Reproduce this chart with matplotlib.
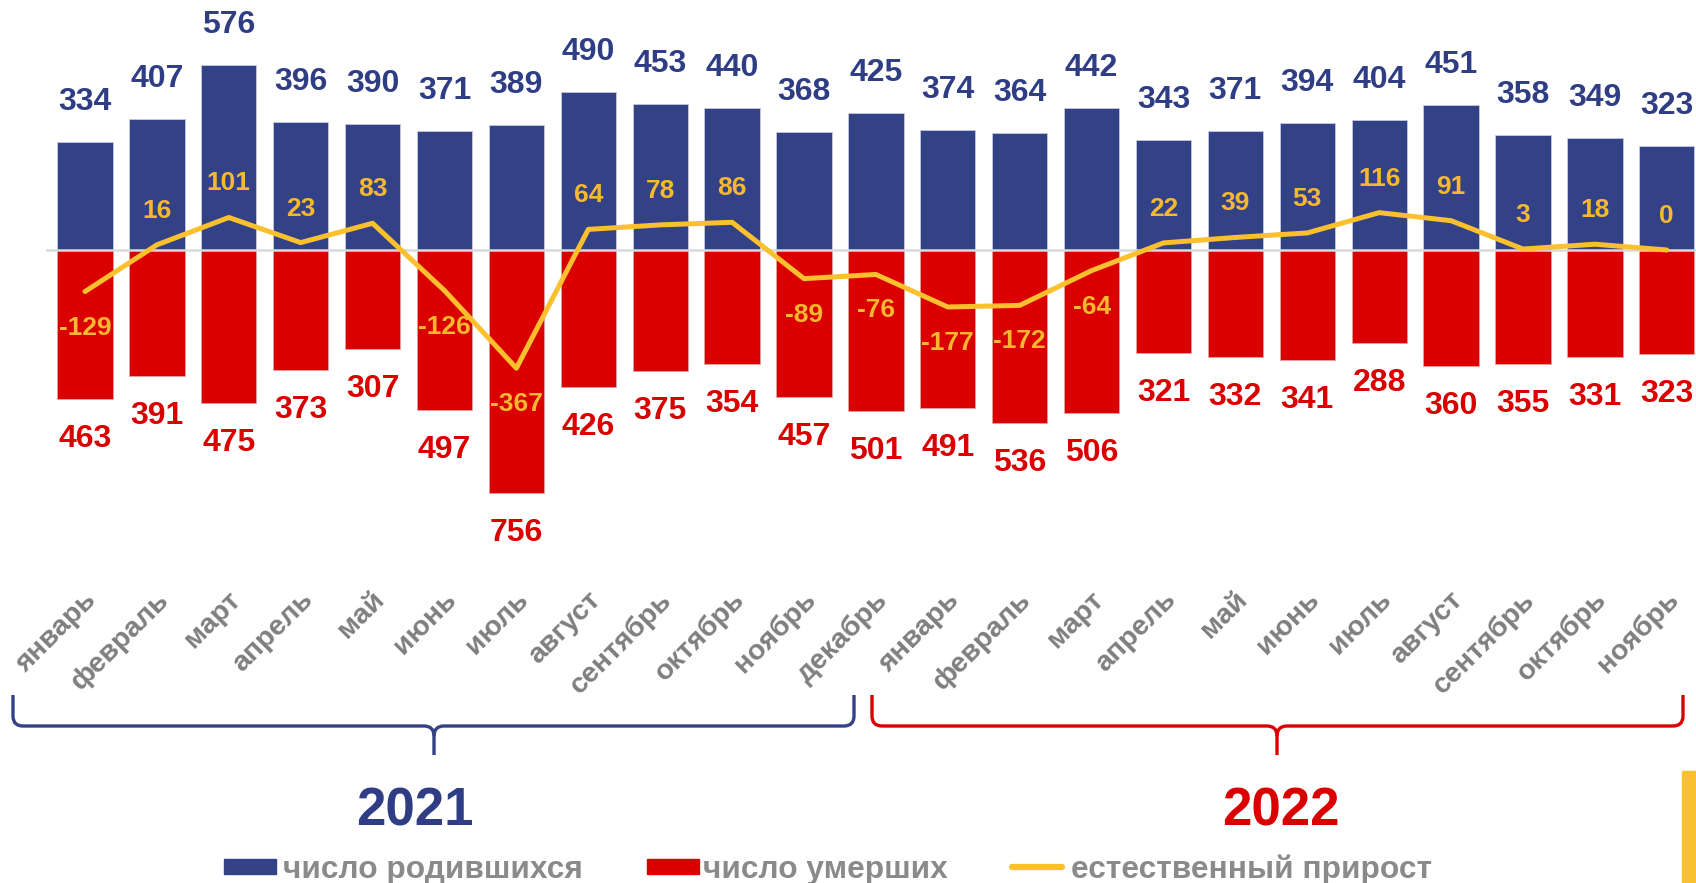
import matplotlib
matplotlib.use("Agg")
import matplotlib.pyplot as plt
from matplotlib.path import Path
from matplotlib.patches import PathPatch, Rectangle
import numpy as np

# Данные
months = ["январь", "февраль", "март", "апрель", "май", "июнь", "июль", "август",
          "сентябрь", "октябрь", "ноябрь", "декабрь",
          "январь", "февраль", "март", "апрель", "май", "июнь", "июль", "август",
          "сентябрь", "октябрь", "ноябрь"]
births = [334, 407, 576, 396, 390, 371, 389, 490, 453, 440, 368, 425,
          374, 364, 442, 343, 371, 394, 404, 451, 358, 349, 323]
deaths = [463, 391, 475, 373, 307, 497, 756, 426, 375, 354, 457, 501,
          491, 536, 506, 321, 332, 341, 288, 360, 355, 331, 323]
growth = [-129, 16, 101, 23, 83, -126, -367, 64, 78, 86, -89, -76,
          -177, -172, -64, 22, 39, 53, 116, 91, 3, 18, 0]
years = ["2021", "2022"]

BLUE = "#334187"
RED = "#DA0000"
YELLOW = "#FBC02D"
GRAY = "#7f7f7f"

W, H = 1696, 883
plt.rcParams['font.family'] = ['Liberation Sans', 'DejaVu Sans']

fig = plt.figure(figsize=(W / 100, H / 100), dpi=100)

def fx(px):
    return px / W

def fy(py):
    return 1 - py / H

# оси: ноль на 250 px, 0.322 px на единицу
ax_top, ax_bot = 0, 530
ax = fig.add_axes([fx(46), fy(ax_bot), 1 - fx(46), (ax_bot - ax_top) / H])
scale = 0.322
ax.set_ylim(-(ax_bot - 250) / scale, 250 / scale)
step = 71.9
ax.set_xlim((46 - 85) / step, (W - 85) / step)
ax.axis("off")

x = np.arange(len(months))
ax.bar(x, births, width=0.77, color=BLUE, edgecolor="#c5c9dd", linewidth=0.6, zorder=2)
ax.bar(x, [-d for d in deaths], width=0.77, color=RED, edgecolor="#e8a0a0", linewidth=0.6, zorder=2)
ax.axhline(0, color="#d9d9d9", lw=1.8, zorder=3)
ax.plot(x, growth, color=YELLOW, lw=3.6, solid_capstyle="round", solid_joinstyle="round", zorder=4)

for i in range(len(months)):
    ax.annotate(str(births[i]), (x[i], births[i]), xytext=(0, 40), textcoords="offset pixels",
                ha="center", va="center", fontsize=23, fontweight="bold", color="#2f3d85",
                annotation_clip=False, zorder=5)
    ax.annotate(str(deaths[i]), (x[i], -deaths[i]), xytext=(0, -40), textcoords="offset pixels",
                ha="center", va="center", fontsize=23, fontweight="bold", color=RED,
                annotation_clip=False, zorder=5)
    off = 34 if growth[i] >= 0 else -36
    ax.annotate(str(growth[i]), (x[i], growth[i]), xytext=(0, off), textcoords="offset pixels",
                ha="center", va="center", fontsize=19, fontweight="bold", color="#f5b82e",
                annotation_clip=False, zorder=6)

# подписи месяцев
for i, m in enumerate(months):
    xp = 46 + (x[i] - ax.get_xlim()[0]) * step
    fig.text(fx(xp + 8), fy(596), m, rotation=45, rotation_mode="anchor", ha="right", va="center",
             fontsize=20.5, fontweight="bold", color=GRAY)

# фигурные скобки
def brace(x0, x1, xt, color):
    top, line, tip, r = 695, 726, 755, 10
    verts = [(x0, top), (x0, line - r), (x0, line), (x0 + r, line),
             (xt - r, line), (xt, line), (xt, line + r), (xt, tip)]
    codes = [Path.MOVETO, Path.LINETO, Path.CURVE3, Path.CURVE3,
             Path.LINETO, Path.CURVE3, Path.CURVE3, Path.LINETO]
    verts2 = [(x1, top), (x1, line - r), (x1, line), (x1 - r, line),
              (xt + r, line), (xt, line), (xt, line + r)]
    codes2 = [Path.MOVETO, Path.LINETO, Path.CURVE3, Path.CURVE3,
              Path.LINETO, Path.CURVE3, Path.CURVE3]
    for v, c in [(verts, codes), (verts2, codes2)]:
        p = Path([(fx(a), fy(b)) for a, b in v], c)
        fig.add_artist(PathPatch(p, fill=False, edgecolor=color, lw=2.4,
                                 transform=fig.transFigure, capstyle="butt"))

brace(13, 854, 434, BLUE)
brace(872, 1683, 1277, RED)

fig.text(fx(415), fy(811), years[0], ha="center", va="center", fontsize=38, fontweight="bold", color="#2f3d85")
fig.text(fx(1281), fy(811), years[1], ha="center", va="center", fontsize=38, fontweight="bold", color=RED)

# легенда
fig.add_artist(Rectangle((fx(224), fy(874)), fx(52), 15 / H, color=BLUE, transform=fig.transFigure))
fig.text(fx(283), fy(878), "число родившихся", ha="left", va="baseline", fontsize=22.8,
         fontweight="bold", color="#8a8a8a")
fig.add_artist(Rectangle((fx(647), fy(874)), fx(52), 15 / H, color=RED, transform=fig.transFigure))
fig.text(fx(703), fy(878), "число умерших", ha="left", va="baseline", fontsize=22.8,
         fontweight="bold", color="#8a8a8a")
fig.add_artist(plt.Line2D([fx(1012), fx(1062)], [fy(867), fy(867)], color=YELLOW, lw=4.5,
                          solid_capstyle="round", transform=fig.transFigure))
fig.text(fx(1071), fy(878), "естественный прирост", ha="left", va="baseline", fontsize=22.8,
         fontweight="bold", color="#8a8a8a")

# жёлтая полоса справа
fig.add_artist(Rectangle((fx(1682), 0), fx(14), (H - 771) / H, color=YELLOW, transform=fig.transFigure))

fig.savefig("out.png", dpi=100)
